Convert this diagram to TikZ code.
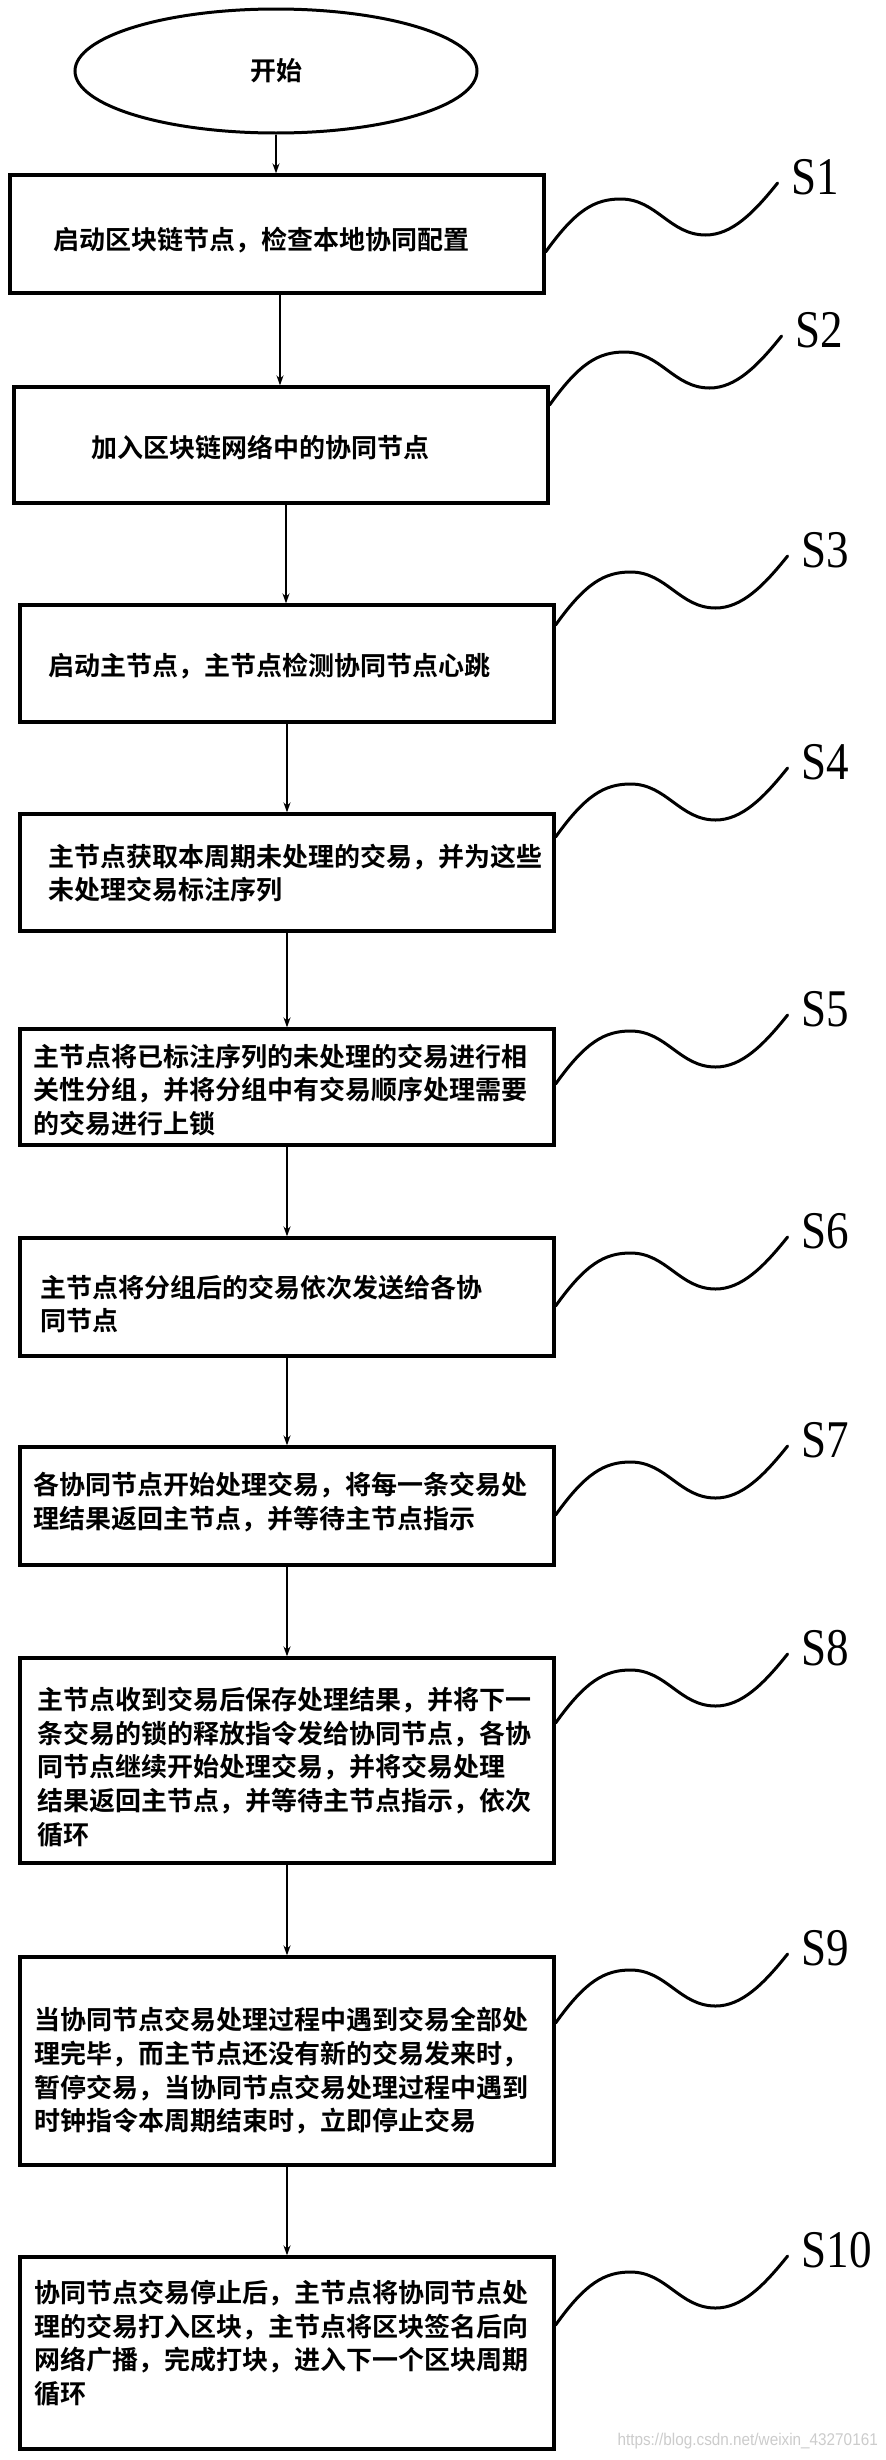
\documentclass[tikz,border=0pt]{standalone}
\usepackage{fontspec}
\usepackage{graphicx}
\setmainfont{Liberation Serif}
\newfontfamily\cjk{Noto Sans CJK SC Bold}
\newfontfamily\wmfont{Liberation Sans}
\usetikzlibrary{shapes.geometric,arrows.meta,calc}
\tikzset{
  box/.style={draw, line width=3.2pt, inner sep=0pt},
  txt/.style={font=\cjk\fontsize{26}{33.7}\selectfont, align=left, anchor=west, inner sep=0pt},
  flow/.style={line width=2.6pt, -{Stealth[length=10pt,width=7pt]}},
  wave/.style={line width=3pt, line cap=round},
  slabel/.style={font=\fontsize{53}{53}\selectfont, anchor=west, inner sep=0pt},
}
\newcommand{\wavepath}[2]{%
  \draw[wave] (#1) .. controls +(30,-42) and +(-26,0) .. ++(75,-53)
     .. controls +(36,0) and +(-36,0) .. ++(85,36)
     .. controls +(26,0) and +(-24,30) .. ++(72,-52) coordinate (#2);}
\begin{document}
\begin{tikzpicture}[x=1pt,y=-1pt]
\useasboundingbox (0,0) rectangle (886,2460);
\fill[white] (0,0) rectangle (886,2460);

% start
\node[draw, ellipse, line width=3pt, minimum width=402pt, minimum height=124pt, inner sep=0pt,
      font=\cjk\fontsize{26}{30}\selectfont] (start) at (276,71) {\raisebox{-6pt}{开始}};

% boxes
\node[box, minimum width=534pt, minimum height=118pt] (b1) at (277,234) {};
\node[box, minimum width=534pt, minimum height=116pt] (b2) at (281,445) {};
\node[box, minimum width=534pt, minimum height=117pt] (b3) at (287,663.5) {};
\node[box, minimum width=534pt, minimum height=117pt] (b4) at (287,872.5) {};
\node[box, minimum width=534pt, minimum height=116pt] (b5) at (287,1087) {};
\node[box, minimum width=534pt, minimum height=118pt] (b6) at (287,1297) {};
\node[box, minimum width=534pt, minimum height=118pt] (b7) at (287,1506) {};
\node[box, minimum width=534pt, minimum height=205pt] (b8) at (287,1760.5) {};
\node[box, minimum width=534pt, minimum height=208pt] (b9) at (287,2061) {};
\node[box, minimum width=534pt, minimum height=192pt] (b10) at (287,2353) {};

% texts
\node[txt] (t1) at (53,240) {启动区块链节点，检查本地协同配置};
\node[txt] (t2) at (91,447) {加入区块链网络中的协同节点};
\node[txt] (t3) at (48,666) {启动主节点，主节点检测协同节点心跳};
\node[txt] (t4) at (48,873) {主节点获取本周期未处理的交易，并为这些\\未处理交易标注序列};
\node[txt] (t5) at (33,1090) {主节点将已标注序列的未处理的交易进行相\\关性分组，并将分组中有交易顺序处理需要\\的交易进行上锁};
\node[txt] (t6) at (40,1304) {主节点将分组后的交易依次发送给各协\\同节点};
\node[txt] (t7) at (33,1502) {各协同节点开始处理交易，将每一条交易处\\理结果返回主节点，并等待主节点指示};
\node[txt] (t8) at (37,1767) {主节点收到交易后保存处理结果，并将下一\\条交易的锁的释放指令发给协同节点，各协\\同节点继续开始处理交易，并将交易处理\\结果返回主节点，并等待主节点指示，依次\\循环};
\node[txt] (t9) at (34,2071) {当协同节点交易处理过程中遇到交易全部处\\理完毕，而主节点还没有新的交易发来时，\\暂停交易，当协同节点交易处理过程中遇到\\时钟指令本周期结束时，立即停止交易};
\node[txt] (t10) at (34,2343) {协同节点交易停止后，主节点将协同节点处\\理的交易打入区块，主节点将区块签名后向\\网络广播，完成打块，进入下一个区块周期\\循环};

% flow arrows
\draw[flow] (start.south) -- (start.south |- b1.north);
\draw[flow] ($(b1.south)+(3,0)$) -- ($(b1.south |- b2.north)+(3,0)$);
\draw[flow] ($(b2.south)+(5,0)$) -- ($(b2.south |- b3.north)+(5,0)$);
\draw[flow] (b3.south) -- (b4.north);
\draw[flow] (b4.south) -- (b5.north);
\draw[flow] (b5.south) -- (b6.north);
\draw[flow] (b6.south) -- (b7.north);
\draw[flow] (b7.south) -- (b8.north);
\draw[flow] (b8.south) -- (b9.north);
\draw[flow] (b9.south) -- (b10.north);

% wave start points
\coordinate (w1) at ([yshift=-18pt]b1.east);
\coordinate (w2) at ([yshift=40pt]b2.east);
\coordinate (w3) at ([yshift=38.5pt]b3.east);
\coordinate (w4) at ([yshift=35.5pt]b4.east);
\coordinate (w5) at ([yshift=3pt]b5.east);
\coordinate (w6) at ([yshift=-9pt]b6.east);
\coordinate (w7) at ([yshift=-9pt]b7.east);
\coordinate (w8) at ([yshift=37.5pt]b8.east);
\coordinate (w9) at ([yshift=38pt]b9.east);
\coordinate (w10) at ([yshift=28pt]b10.east);

\wavepath{w1}{e1}
\wavepath{w2}{e2}
\wavepath{w3}{e3}
\wavepath{w4}{e4}
\wavepath{w5}{e5}
\wavepath{w6}{e6}
\wavepath{w7}{e7}
\wavepath{w8}{e8}
\wavepath{w9}{e9}
\wavepath{w10}{e10}

\node[slabel] (s1) at ([xshift=14pt,yshift=6pt]e1) {\scalebox{0.85}[1]{S1}};
\node[slabel] (s2) at ([xshift=14pt,yshift=6pt]e2) {\scalebox{0.85}[1]{S2}};
\node[slabel] (s3) at ([xshift=14pt,yshift=6pt]e3) {\scalebox{0.85}[1]{S3}};
\node[slabel] (s4) at ([xshift=14pt,yshift=6pt]e4) {\scalebox{0.85}[1]{S4}};
\node[slabel] (s5) at ([xshift=14pt,yshift=6pt]e5) {\scalebox{0.85}[1]{S5}};
\node[slabel] (s6) at ([xshift=14pt,yshift=6pt]e6) {\scalebox{0.85}[1]{S6}};
\node[slabel] (s7) at ([xshift=14pt,yshift=6pt]e7) {\scalebox{0.85}[1]{S7}};
\node[slabel] (s8) at ([xshift=14pt,yshift=6pt]e8) {\scalebox{0.85}[1]{S8}};
\node[slabel] (s9) at ([xshift=14pt,yshift=6pt]e9) {\scalebox{0.85}[1]{S9}};
\node[slabel] (s10) at ([xshift=14pt,yshift=6pt]e10) {\scalebox{0.85}[1]{S10}};

% watermark
\node[anchor=east, inner sep=0pt, text=black!20, font=\wmfont\fontsize{17}{17}\selectfont] (wm) at (878,2441) {\scalebox{0.9}[1]{https://blog.csdn.net/weixin\_43270161}};
\end{tikzpicture}
\end{document}
